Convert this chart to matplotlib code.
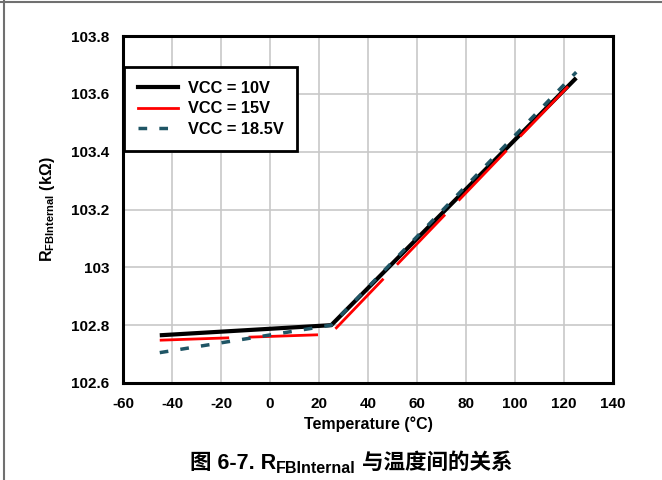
import matplotlib.pyplot as plt
from matplotlib.lines import Line2D

plt.rcParams['font.family'] = ['Liberation Sans', 'Noto Sans CJK SC', 'DejaVu Sans']
plt.rcParams['font.weight'] = 'bold'
plt.rcParams['axes.unicode_minus'] = False
plt.rcParams['mathtext.fontset'] = 'custom'
plt.rcParams['mathtext.bf'] = 'Liberation Sans:bold'
plt.rcParams['mathtext.rm'] = 'Liberation Sans:bold'

# curves
temp_10v = [-45, 25, 125]
r_10v = [102.765, 102.80, 103.655]
temp_15v = [-45, 24, 27, 125]
r_15v = [102.748, 102.768, 102.79, 103.655]
temp_185v = [-45, 25, 125]
r_185v = [102.705, 102.80, 103.675]

x_ticks = [-60, -40, -20, 0, 20, 40, 60, 80, 100, 120, 140]
y_ticks = [102.6, 102.8, 103, 103.2, 103.4, 103.6, 103.8]
y_tick_labels = ['102.6', '102.8', '103', '103.2', '103.4', '103.6', '103.8']

fig = plt.figure(figsize=(6.62, 4.8), dpi=100)
ax = fig.add_axes([123 / 662, 1 - 383 / 480, 490 / 662, 347 / 480])

ax.plot(temp_10v, r_10v, color='black', lw=3, solid_capstyle='butt', label='VCC = 10V', zorder=3)
ax.plot(temp_15v, r_15v, color='#ff0000', lw=2, dashes=(25, 7), label='VCC = 15V', zorder=4)
ax.plot(temp_185v, r_185v, color='#1f5565', lw=2.5, dashes=(2.5, 3.5), label='VCC = 18.5V', zorder=5)

ax.set_xlim(-60, 140)
ax.set_ylim(102.6, 103.8)
ax.set_xticks(x_ticks)
ax.set_yticks(y_ticks)
ax.set_yticklabels(y_tick_labels)
ax.tick_params(length=0, labelsize=11, pad=10)
ax.grid(True, color='#c8c8c8', lw=1.2)
ax.set_axisbelow(True)
for s in ax.spines.values():
    s.set_linewidth(2.2)

ax.set_xlabel('Temperature (°C)', fontsize=11.5, fontweight='bold', labelpad=4)
ax.set_ylabel(r'R$_{\mathbf{FBInternal}}$ (kΩ)', fontsize=11.5, fontweight='bold', labelpad=10)

# legend with solid red handle as in the original
handles = [
    Line2D([], [], color='black', lw=3),
    Line2D([], [], color='#ff0000', lw=2),
    Line2D([], [], color='#1f5565', lw=2.5, dashes=(2.5, 3.5)),
]
leg = ax.legend(handles, ['VCC = 10V', 'VCC = 15V', 'VCC = 18.5V'],
                loc='upper left', bbox_to_anchor=(0.003, 0.91), borderaxespad=0,
                fancybox=False, framealpha=1, edgecolor='black', fontsize=11.8,
                handlelength=2.4, handletextpad=0.6, labelspacing=0.32, borderpad=0.85)
leg.get_frame().set_linewidth(2)
for t in leg.get_texts():
    t.set_fontweight('bold')

# caption built from pieces so CJK glyphs and the subscript both render
renderer = fig.canvas.get_renderer()
cap_y = 1 - 469 / 480
parts = [('图 6-7. R', 15.5, 0), ('FBInternal', 11.5, -4), (' 与温度间的关系', 15.5, 0)]
texts = []
for s, fs, dy in parts:
    t = fig.text(0, cap_y, s, fontsize=fs, fontweight='bold', va='baseline')
    texts.append((t, dy))
widths = [t.get_window_extent(renderer).width for t, _ in texts]
x = 351 - sum(widths) / 2
for (t, dy), w in zip(texts, widths):
    t.set_position((x / 662, cap_y + dy / 480))
    x += w

# page border (top and left)
fig.add_artist(Line2D([0, 1], [1 - 1.5 / 480, 1 - 1.5 / 480], color='#707070', lw=1.5, transform=fig.transFigure))
fig.add_artist(Line2D([3.5 / 662, 3.5 / 662], [0, 1], color='#707070', lw=1.5, transform=fig.transFigure))

fig.savefig('out.png', dpi=100)
